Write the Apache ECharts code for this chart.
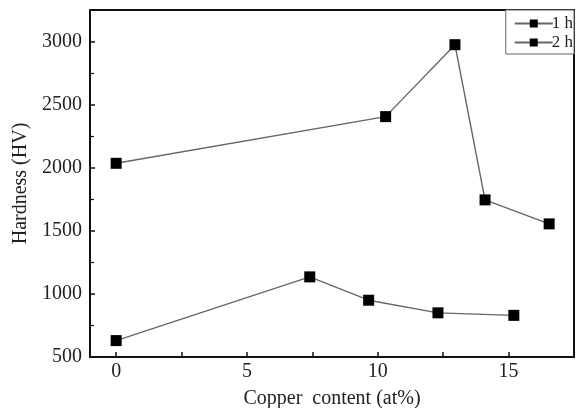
<!DOCTYPE html>
<html>
<head>
<meta charset="utf-8">
<script src="https://cdn.jsdelivr.net/npm/echarts@6/dist/echarts.min.js"></script>
<style>
  html, body { margin: 0; padding: 0; background: #fff; }
  #chart { width: 585px; height: 408px; }
</style>
</head>
<body>
<div id="chart"></div>
<script>
var seriesNames = ['1 h', '2 h'];
// lower curve
var copper1h = [0, 7.4, 9.65, 12.3, 15.2];
var hardness1h = [630, 1135, 950, 850, 830];
// upper curve
var copper2h = [0, 10.3, 12.95, 14.1, 16.55];
var hardness2h = [2035, 2405, 2975, 1745, 1555];
var xTicks = [0, 5, 10, 15];
var xMinorTicks = [0, 2.5, 5, 7.5, 10, 12.5, 15];

function pairs(xs, ys) {
    var out = [];
    for (var i = 0; i < xs.length; i++) out.push([xs[i], ys[i]]);
    return out;
}

var chart = echarts.init(document.getElementById('chart'));
var serif = 'Liberation Serif';

var option = {
    animation: false,
    backgroundColor: '#fff',
    grid: {
        left: 90, right: 11, top: 10, bottom: 51,
        outerBoundsMode: 'none',
        show: true, borderColor: '#111', borderWidth: 2
    },
    legend: {
        orient: 'vertical',
        right: 11, top: 10,
        data: seriesNames,
        itemWidth: 38, itemHeight: 10, itemGap: 2,
        padding: [5, 1, 3, 8],
        borderColor: '#666', borderWidth: 1,
        backgroundColor: '#fff',
        textStyle: { fontFamily: serif, fontSize: 17, color: '#222', padding: [0, 0, 0, -6] }
    },
    xAxis: {
        type: 'value',
        min: -1, max: 17.5,
        axisLine: { onZero: false, lineStyle: { color: '#111', width: 2 } },
        axisTick: { inside: true, length: 5, customValues: xMinorTicks, lineStyle: { color: '#111', width: 1.5 } },
        axisLabel: { customValues: xTicks, fontFamily: serif, fontSize: 20, color: '#222', margin: 5 },
        splitLine: { show: false },
        name: 'Copper  content (at%)',
        nameLocation: 'middle', nameGap: 32,
        nameTextStyle: { fontFamily: serif, fontSize: 20, color: '#222' }
    },
    yAxis: {
        type: 'value',
        min: 500, max: 3250, interval: 500,
        axisLine: { show: true, onZero: false, lineStyle: { color: '#111', width: 2 } },
        axisTick: { inside: true, length: 5, lineStyle: { color: '#111', width: 1.5 } },
        minorTick: { show: true, splitNumber: 2, length: 4, lineStyle: { color: '#111', width: 1.2 } },
        axisLabel: {
            fontFamily: serif, fontSize: 20, color: '#222', margin: 8,
            showMaxLabel: false,
            formatter: function (v) { return String(v); }
        },
        splitLine: { show: false },
        name: 'Hardness (HV)',
        nameLocation: 'middle', nameGap: 53,
        nameTextStyle: { fontFamily: serif, fontSize: 20, color: '#222' }
    },
    series: [
        {
            name: seriesNames[0],
            type: 'line',
            data: pairs(copper1h, hardness1h),
            symbol: 'rect', symbolSize: 11,
            itemStyle: { color: '#000' },
            lineStyle: { color: '#666', width: 1.4 }
        },
        {
            name: seriesNames[1],
            type: 'line',
            data: pairs(copper2h, hardness2h),
            symbol: 'rect', symbolSize: 11,
            itemStyle: { color: '#000' },
            lineStyle: { color: '#666', width: 1.4 }
        }
    ]
};

chart.setOption(option);
</script>
</body>
</html>
